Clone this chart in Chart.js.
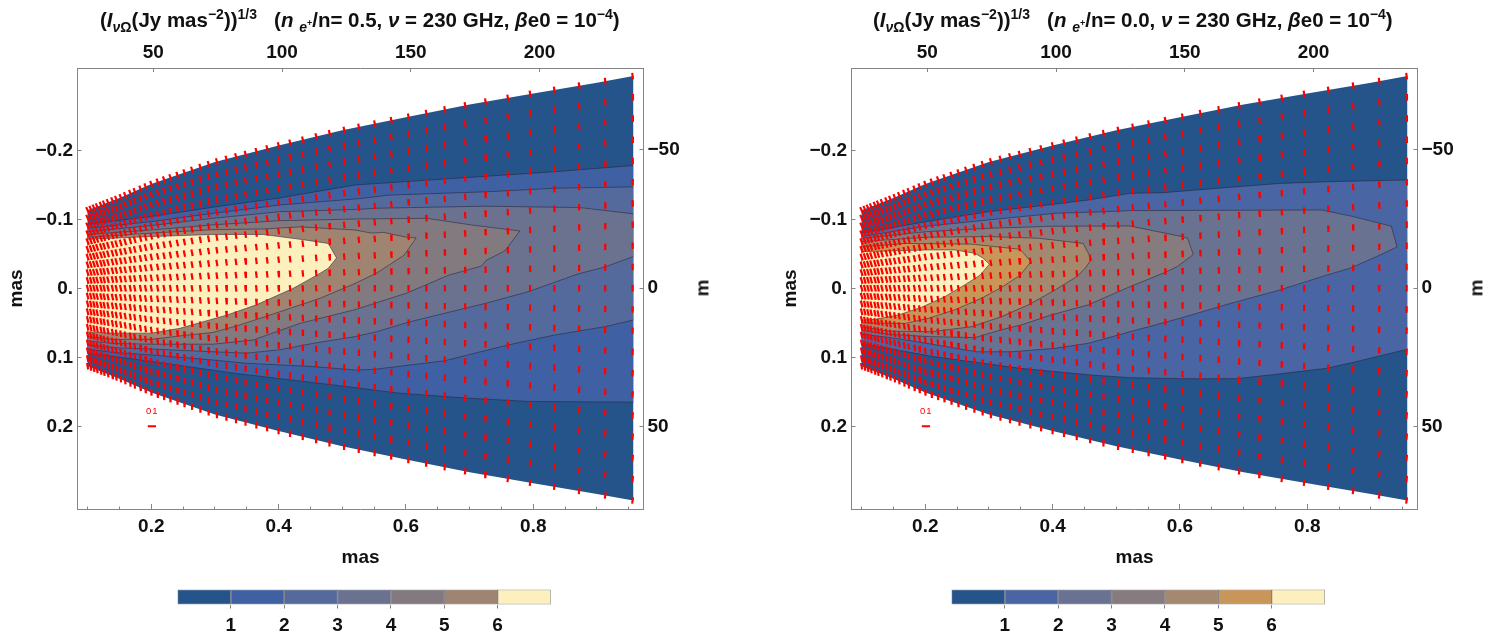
<!DOCTYPE html>
<html>
<head>
<meta charset="utf-8">
<title>Jet intensity maps</title>
<script src="https://cdn.jsdelivr.net/npm/chart.js@4/dist/chart.umd.min.js"></script>
<style>
    body { margin: 0; background: #fff; font-family: "Liberation Sans", sans-serif; color: #111; }
    #page { position: relative; width: 1494px; height: 638px; overflow: hidden; }
    canvas { position: absolute; }
    .title { position: absolute; top: 6px; font-size: 20.5px; font-weight: bold; white-space: nowrap; line-height: 28px; }
    .title sub, .title sup { font-size: 14px; line-height: 0; }
    .title sub sup { font-size: 9px; }
    .unit { position: absolute; top: 277px; font-size: 19px; font-weight: bold; transform: rotate(-90deg); }
    .keyLabel { position: absolute; top: 405px; font-size: 9.5px; color: #f00; letter-spacing: 1px; }
</style>
</head>
<body>
<div id="page">
    <canvas id="leftChart" width="720" height="570" style="left:0;top:0"></canvas>
    <canvas id="rightChart" width="720" height="570" style="left:774px;top:0"></canvas>
    <canvas id="leftBar" width="390" height="58" style="left:170px;top:580px"></canvas>
    <canvas id="rightBar" width="390" height="58" style="left:944px;top:580px"></canvas>
    <div class="title" style="left:100px">(<i>I</i><sub><i>ν</i>Ω</sub>(Jy mas<sup>−2</sup>))<sup>1/3</sup> &nbsp; (<i>n</i> <sub><i>e</i><sup>+</sup></sub>/n= 0.5, <i>ν</i> = 230 GHz, <i>β</i>e0 = 10<sup>−4</sup>)</div>
    <div class="title" style="left:873px">(<i>I</i><sub><i>ν</i>Ω</sub>(Jy mas<sup>−2</sup>))<sup>1/3</sup> &nbsp; (<i>n</i> <sub><i>e</i><sup>+</sup></sub>/n= 0.0, <i>ν</i> = 230 GHz, <i>β</i>e0 = 10<sup>−4</sup>)</div>
    <div class="unit" style="left:694px">m</div>
    <div class="unit" style="left:1468px">m</div>
    <div class="keyLabel" style="left:146px">01</div>
    <div class="keyLabel" style="left:920px">01</div>
</div>

<script>
// Axis ticks
const bottomTicks = [0.2, 0.4, 0.6, 0.8];
const bottomLabels = ['0.2', '0.4', '0.6', '0.8'];
const minorTicks = [0.1, 0.15, 0.2, 0.25, 0.3, 0.35, 0.4, 0.45, 0.5, 0.55, 0.6, 0.65, 0.7, 0.75, 0.8, 0.85, 0.9, 0.95];
const leftTicks = [-0.2, -0.1, 0, 0.1, 0.2];
const leftLabels = ['−0.2', '−0.1', '0.', '0.1', '0.2'];
const topTicks = [50, 100, 150, 200];
const rightTicks = [-50, 0, 50];
const rightLabels = ['−50', '0', '50'];
const barTicks = [1, 2, 3, 4, 5, 6];

// Jet edge, half width at each x (mas)
const jetX = [0.1, 0.15, 0.2, 0.3, 0.4, 0.5, 0.6, 0.7, 0.8, 0.9, 0.957];
const jetHalf = [0.113, 0.131, 0.151, 0.183, 0.207, 0.229, 0.248, 0.2665, 0.2825, 0.298, 0.3077];

// Contours of the left map (n_e+/n = 0.5)
const left1 = [[0.1,-0.093],[0.2,-0.104],[0.297,-0.1175],[0.402,-0.131],[0.52,-0.1497],[0.677,-0.1594],[0.834,-0.169],[0.957,-0.178],
    [0.957,0.165],[0.792,0.164],[0.693,0.159],[0.59,0.152],[0.485,0.14],[0.329,0.123],[0.2,0.106],[0.1,0.094]];
const left2 = [[0.1,-0.087],[0.2,-0.0966],[0.297,-0.1087],[0.402,-0.1208],[0.528,-0.13],[0.572,-0.135],[0.729,-0.14],[0.834,-0.145],[0.957,-0.147],
    [0.957,0.046],[0.913,0.0556],[0.834,0.0676],[0.761,0.082],[0.693,0.0976],[0.661,0.105],[0.551,0.1174],[0.52,0.1184],[0.455,0.1135],[0.35,0.1087],[0.297,0.104],[0.2,0.0966],[0.14,0.093],[0.1,0.088]];
const left3 = [[0.1,-0.082],[0.2,-0.091],[0.297,-0.1015],[0.402,-0.111],[0.528,-0.1145],[0.551,-0.116],[0.724,-0.119],[0.797,-0.118],[0.873,-0.117],[0.957,-0.108],
    [0.957,-0.046],[0.913,-0.031],[0.871,-0.021],[0.792,0.005],[0.724,0.022],[0.604,0.049],[0.554,0.063],[0.52,0.07],[0.455,0.0797],[0.402,0.089],[0.35,0.094],[0.297,0.092],[0.2,0.088],[0.14,0.086],[0.1,0.082]];
const left4 = [[0.1,-0.078],[0.2,-0.0845],[0.297,-0.092],[0.402,-0.098],[0.528,-0.1005],[0.633,-0.1014],[0.661,-0.0976],[0.703,-0.0918],[0.779,-0.083],
    [0.755,-0.054],[0.727,-0.041],[0.718,-0.032],[0.667,-0.019],[0.601,0.007],[0.52,0.031],[0.434,0.0507],[0.36,0.075],[0.297,0.081],[0.2,0.081],[0.14,0.08],[0.1,0.076]];
const left5 = [[0.1,-0.074],[0.2,-0.08],[0.297,-0.085],[0.376,-0.086],[0.434,-0.089],[0.52,-0.0845],[0.546,-0.08],[0.565,-0.081],[0.601,-0.074],[0.616,-0.073],
    [0.597,-0.048],[0.554,-0.022],[0.52,-0.007],[0.465,0.0145],[0.402,0.034],[0.334,0.0546],[0.297,0.064],[0.245,0.069],[0.2,0.074],[0.14,0.074],[0.1,0.07]];
const left6 = [[0.1,-0.071],[0.2,-0.075],[0.297,-0.078],[0.376,-0.078],[0.434,-0.071],[0.478,-0.065],[0.491,-0.044],
    [0.478,-0.029],[0.46,-0.019],[0.423,0],[0.365,0.024],[0.318,0.039],[0.245,0.058],[0.2,0.065],[0.14,0.065],[0.1,0.063]];

// Contours of the right map (n_e+/n = 0.0)
const right1 = [[0.1,-0.08],[0.2016,-0.0966],[0.299,-0.111],[0.404,-0.122],[0.456,-0.128],[0.5215,-0.1377],[0.574,-0.1386],[0.679,-0.1464],[0.757,-0.152],[0.836,-0.1546],[0.957,-0.157],
    [0.957,0.0884],[0.878,0.106],[0.83,0.116],[0.757,0.124],[0.689,0.131],[0.6,0.131],[0.5215,0.1295],[0.459,0.1256],[0.349,0.116],[0.2126,0.099],[0.1,0.08]];
const right2 = [[0.1,-0.075],[0.2016,-0.09],[0.299,-0.099],[0.404,-0.1087],[0.482,-0.111],[0.5215,-0.1126],[0.823,-0.1135],[0.872,-0.104],[0.932,-0.09],[0.941,-0.06],
    [0.909,-0.046],[0.867,-0.029],[0.83,-0.019],[0.757,0.0024],[0.679,0.022],[0.6,0.0435],[0.5215,0.063],[0.456,0.0797],[0.404,0.087],[0.336,0.092],[0.281,0.092],[0.2016,0.0797],[0.142,0.071],[0.1,0.0667]];
const right3 = [[0.1,-0.0725],[0.2016,-0.082],[0.299,-0.087],[0.404,-0.09],[0.5215,-0.0903],[0.603,-0.075],[0.612,-0.0725],[0.621,-0.049],
    [0.595,-0.031],[0.574,-0.022],[0.5215,-0.0024],[0.456,0.024],[0.398,0.0386],[0.351,0.053],[0.32,0.06],[0.278,0.0715],[0.205,0.07],[0.142,0.0667],[0.1,0.061]];
const right4 = [[0.1,-0.0676],[0.2016,-0.074],[0.299,-0.075],[0.378,-0.0725],[0.448,-0.065],[0.461,-0.042],
    [0.451,-0.029],[0.438,-0.017],[0.404,0.0024],[0.362,0.024],[0.32,0.041],[0.273,0.0556],[0.21,0.063],[0.142,0.062],[0.1,0.0556]];
const right5 = [[0.1,-0.06],[0.168,-0.065],[0.273,-0.064],[0.349,-0.0565],[0.366,-0.0386],
    [0.349,-0.019],[0.32,-0.0014],[0.288,0.0145],[0.247,0.031],[0.205,0.0435],[0.168,0.051],[0.1,0.05]];
const right6 = [[0.1,-0.053],[0.2016,-0.0556],[0.2467,-0.0556],[0.278,-0.0507],[0.291,-0.0435],[0.3006,-0.035],
    [0.286,-0.019],[0.262,-0.005],[0.231,0.012],[0.194,0.0275],[0.158,0.0386],[0.121,0.045],[0.1,0.046]];

const leftColors = ['#25548b', '#3f60a3', '#556a9c', '#6b7290', '#837a80', '#9f8472', '#fdf0bf'];
const rightColors = ['#25548b', '#4a65a3', '#6a7291', '#867b7f', '#a4896f', '#c89658', '#fdf0bf'];

// Red ticks: columns in mas, rows as a share of the local half width
const fieldColumns = [0.1, 0.105, 0.11, 0.115, 0.121, 0.126, 0.132, 0.139, 0.145, 0.152, 0.159, 0.167, 0.174, 0.183, 0.191, 0.2, 0.21, 0.22, 0.23, 0.241, 0.252, 0.264, 0.277, 0.29, 0.303, 0.318, 0.333, 0.348, 0.365, 0.382, 0.4, 0.418, 0.438, 0.459, 0.48, 0.503, 0.526, 0.551, 0.577, 0.604, 0.632, 0.661, 0.693, 0.725, 0.76, 0.795, 0.833, 0.872, 0.913, 0.956];
const fieldRows = [-1, -0.9, -0.8, -0.7, -0.6, -0.5, -0.4, -0.3, -0.2, -0.1, 0, 0.1, 0.2, 0.3, 0.4, 0.5, 0.6, 0.7, 0.8, 0.9, 1];
// Lean of a tick (dx/dy in pixels) at the top, middle and bottom of the jet
const leanAtLeft = [-0.45, -0.28, -0.18];
const leanAtRight = [-0.12, 0.02, 0.14];
const keyMark = [[0.1945, 0.2], [0.2075, 0.2]];

const tickHalf = 0.0047;
const outlineColor = 'rgba(35,35,55,0.55)';
const frameColor = '#858585';
const tickFont = { family: '"Liberation Sans"', size: 19, weight: 'bold' };

function halfWidthAt(x) {
    for (let i = 1; i < jetX.length; i++) {
        if (x <= jetX[i]) {
            const t = (x - jetX[i - 1]) / (jetX[i] - jetX[i - 1]);
            return jetHalf[i - 1] + t * (jetHalf[i] - jetHalf[i - 1]);
        }
    }
    return jetHalf[jetHalf.length - 1];
}

function leanAt(colIndex, row) {
    const along = colIndex / (fieldColumns.length - 1);
    const band = row < 0 ? 0 : 1;
    const t = row < 0 ? row + 1 : row;
    const a = leanAtLeft[band] + t * (leanAtLeft[band + 1] - leanAtLeft[band]);
    const b = leanAtRight[band] + t * (leanAtRight[band + 1] - leanAtRight[band]);
    return a + along * (b - a);
}

function fieldPoints() {
    const pts = [];
    fieldColumns.forEach((x, c) => {
        const half = halfWidthAt(x);
        fieldRows.forEach(row => {
            const y = row * half;
            const dx = leanAt(c, row) * tickHalf * 690 / 636.7;
            // y axis is reversed, so y - tickHalf is the upper end on screen
            pts.push({ x: x + dx, y: y - tickHalf });
            pts.push({ x: x - dx, y: y + tickHalf });
            pts.push({ x: NaN, y: NaN });
        });
    });
    return pts;
}

function toPoints(path) {
    return path.map(p => ({ x: p[0], y: p[1] }));
}

// The outline is not stroked along the right edge of the map
function strokePoints(path) {
    const pts = [];
    path.forEach((p, i) => {
        if (i > 0 && p[0] >= 0.957 && path[i - 1][0] >= 0.957) {
            pts.push({ x: NaN, y: NaN });
        }
        pts.push({ x: p[0], y: p[1] });
    });
    return pts;
}

function jetOutline() {
    const upper = jetX.map((x, i) => [x, -jetHalf[i]]);
    const lower = jetX.map((x, i) => [x, jetHalf[i]]).reverse();
    return upper.concat(lower);
}

function buildDatasets(contours, colors) {
    const datasets = [{
        data: toPoints(jetOutline()),
        showLine: true, fill: 'shape', backgroundColor: colors[0], borderWidth: 0, pointRadius: 0
    }];
    contours.forEach((path, i) => {
        datasets.push({
            data: toPoints(path),
            showLine: true, fill: 'shape', backgroundColor: colors[i + 1], borderWidth: 0, pointRadius: 0
        });
        datasets.push({
            data: strokePoints(path),
            showLine: true, fill: false, borderColor: outlineColor, borderWidth: 1, pointRadius: 0
        });
    });
    datasets.push({
        data: fieldPoints(),
        showLine: true, fill: false, borderColor: '#ff0000', borderWidth: 2.2, pointRadius: 0
    });
    datasets.push({
        data: toPoints(keyMark),
        showLine: true, fill: false, borderColor: '#ff0000', borderWidth: 2, pointRadius: 0
    });
    // Chart.js paints the first dataset last
    return datasets.reverse();
}

function fixedTicks(values) {
    return axis => { axis.ticks = values.map(v => ({ value: v })); };
}

function edgeAxis(position, size, values, labels, min, max, reverse, tickLength, padding) {
    const horizontal = position === 'top' || position === 'bottom';
    return {
        type: 'linear',
        position: position,
        min: min,
        max: max,
        reverse: reverse,
        afterBuildTicks: fixedTicks(values),
        afterFit: axis => {
            if (horizontal) axis.height = size; else axis.width = size;
        },
        border: { color: frameColor, width: 1 },
        grid: { drawOnChartArea: false, tickLength: tickLength, color: frameColor },
        ticks: {
            autoSkip: false,
            maxRotation: 0,
            padding: padding,
            color: '#111',
            font: tickFont,
            callback: (value, index) => labels[index]
        }
    };
}

function createMap(canvasId, contours, colors) {
    const x = edgeAxis('bottom', 61, bottomTicks, bottomLabels, 0.0841, 0.9731, false, -5, 11);
    x.title = { display: true, text: 'mas', color: '#111', font: tickFont, padding: { top: 0, bottom: 1 } };
    const y = edgeAxis('left', 77.5, leftTicks, leftLabels, -0.3193, 0.3199, true, -4, 8.5);
    y.title = { display: true, text: 'mas', color: '#111', font: tickFont, padding: { top: 5, bottom: 0 } };
    const xMinor = edgeAxis('bottom', 0, minorTicks, minorTicks.map(() => ''), 0.0841, 0.9731, false, -2.5, 0);
    xMinor.weight = -1;
    xMinor.border = { display: false };

    return new Chart(document.getElementById(canvasId), {
        type: 'scatter',
        data: { datasets: buildDatasets(contours, colors) },
        options: {
            responsive: false,
            animation: false,
            events: [],
            layout: { padding: 0 },
            plugins: { legend: { display: false }, tooltip: { enabled: false } },
            scales: {
                x: x,
                xMinor: xMinor,
                y: y,
                x2: edgeAxis('top', 68, topTicks, topTicks.map(String), 20.55, 240.4, false, -4, 8),
                y2: edgeAxis('right', 76.5, rightTicks, rightLabels, -79.6, 79.8, true, -4, 8)
            }
        }
    });
}

function createBar(canvasId, colors) {
    return new Chart(document.getElementById(canvasId), {
        type: 'bar',
        data: {
            labels: [''],
            datasets: colors.map(c => ({
                data: [1],
                backgroundColor: c,
                borderColor: 'rgba(30,30,45,0.45)',
                borderWidth: 1,
                borderSkipped: false,
                barPercentage: 1,
                categoryPercentage: 1
            }))
        },
        options: {
            indexAxis: 'y',
            responsive: false,
            animation: false,
            events: [],
            layout: { padding: { left: 7.5, right: 9, top: 9.5 } },
            plugins: { legend: { display: false }, tooltip: { enabled: false } },
            scales: {
                x: {
                    type: 'linear',
                    stacked: true,
                    min: 0,
                    max: 7,
                    afterBuildTicks: fixedTicks(barTicks),
                    afterFit: axis => { axis.height = 33.5; },
                    border: { display: false },
                    grid: { drawOnChartArea: false, tickLength: 4, color: frameColor },
                    ticks: { autoSkip: false, maxRotation: 0, padding: 6, color: '#111', font: tickFont }
                },
                y: { stacked: true, display: false }
            }
        }
    });
}

document.addEventListener('DOMContentLoaded', () => {
    createMap('leftChart', [left1, left2, left3, left4, left5, left6], leftColors);
    createMap('rightChart', [right1, right2, right3, right4, right5, right6], rightColors);
    createBar('leftBar', leftColors);
    createBar('rightBar', rightColors);
});
</script>
</body>
</html>
